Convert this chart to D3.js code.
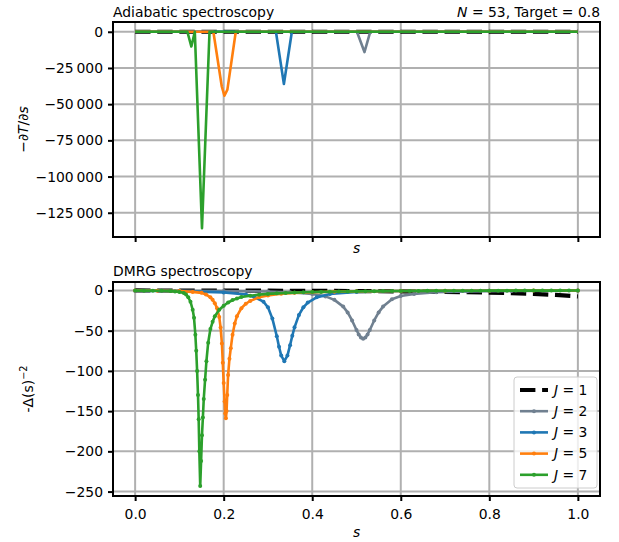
<!DOCTYPE html>
<html>
<head>
<meta charset="utf-8">
<script src="https://cdn.jsdelivr.net/npm/d3@7"></script>
<style>
  body { margin: 0; background: #fff; }
  svg text { font-family: "DejaVu Sans", sans-serif; font-size: 13.9px; fill: #000; }
</style>
</head>
<body>
<svg id="chart" width="619" height="542"></svg>
<script>
// ---- data ----
var xTicks = [0, 0.2, 0.4, 0.6, 0.8, 1.0];
var topYTicks = [0, -25000, -50000, -75000, -100000, -125000];
var botYTicks = [0, -50, -100, -150, -200, -250];
var jLabels = ["1", "2", "3", "5", "7"];
var jColors = ["#000000", "#708090", "#1f77b4", "#ff7f0e", "#2ca02c"];

// adiabatic spectroscopy, -dT/ds  [s, value]
var adJ1 = [[0, 0], [1, 0]];
var adJ2 = [[0, 0], [0.501, 0], [0.518, -14000], [0.531, 0], [1, 0]];
var adJ3 = [[0, 0], [0.318, 0], [0.336, -36100], [0.354, 0], [1, 0]];
var adJ5 = [[0, 0], [0.1767, 0], [0.1957, -37800], [0.2016, -44200], [0.2084, -40000], [0.2273, 0], [1, 0]];
var adJ7 = [[0, 0], [0.118, 0], [0.127, -10200], [0.1348, 0], [0.151, -135600], [0.168, 0], [1, 0]];

// DMRG spectroscopy, -Delta(s)^-2  [s, value]
var dmJ1 = [[0, 0], [0.1, -0.1], [0.2, -0.2], [0.3, -0.3], [0.4, -0.5], [0.5, -0.8], [0.6, -1.2], [0.7, -1.8],
  [0.75, -2.2], [0.8, -2.7], [0.85, -3.4], [0.9, -4.3], [0.95, -5.6], [1.0, -7.5]];
var dmJ2 = [[0, -0.23], [0.1, -0.36], [0.2, -0.61], [0.3, -1.3], [0.35, -2.2], [0.4, -4.3], [0.43, -7.4], [0.45, -11.7],
  [0.47, -20.1], [0.48, -27.3], [0.49, -37.3], [0.5, -49.2], [0.505, -54.7], [0.51, -58.6], [0.515, -60],
  [0.52, -58.6], [0.525, -54.7], [0.53, -49.2], [0.54, -37.3], [0.55, -27.3], [0.56, -20.1], [0.58, -11], [0.6, -7],
  [0.63, -4.3], [0.68, -2.2], [0.75, -1.1], [0.85, -0.54], [1.0, -0.26]];
var dmJ3 = [[0, -0.44], [0.1, -0.89], [0.2, -2.4], [0.25, -5], [0.27, -8.5], [0.29, -14], [0.3, -21], [0.31, -35],
  [0.32, -57], [0.325, -70], [0.33, -81], [0.337, -88], [0.344, -81], [0.35, -68], [0.355, -56.3], [0.36, -45.9],
  [0.37, -30.4], [0.38, -20.9], [0.39, -15], [0.41, -8.6], [0.44, -4.5], [0.5, -1.9], [0.6, -0.73], [0.8, -0.24], [1.0, -0.11]];
var dmJ5 = [[0, 0], [0.05, -0.3], [0.1, -0.8], [0.13, -1.8], [0.15, -3], [0.16, -5], [0.17, -8.5], [0.175, -11.5],
  [0.18, -16], [0.185, -22], [0.19, -33], [0.193, -46], [0.196, -66], [0.198, -90], [0.2, -115], [0.202, -138],
  [0.2035, -153], [0.205, -159], [0.2065, -150], [0.208, -130], [0.21, -105], [0.213, -85], [0.216, -72], [0.22, -55],
  [0.225, -41], [0.23, -32], [0.24, -22], [0.25, -16.5], [0.26, -13], [0.28, -8.5], [0.3, -6.2], [0.33, -4.2],
  [0.36, -3], [0.4, -2.2], [0.45, -1.5], [0.5, -1.1], [0.6, -0.6], [0.7, -0.4], [0.8, -0.3], [0.9, -0.2], [1.0, -0.1]];
var dmJ7 = [[0, -0.2], [0.02, -0.25], [0.04, -0.3], [0.06, -0.45], [0.08, -0.8], [0.09, -1.2], [0.1, -1.8], [0.11, -3.2],
  [0.115, -5], [0.12, -8.5], [0.125, -14], [0.13, -24], [0.133, -34], [0.136, -55], [0.138, -75], [0.14, -100],
  [0.142, -130], [0.1435, -160], [0.145, -200], [0.147, -243], [0.149, -212], [0.151, -180], [0.153, -158],
  [0.155, -135], [0.158, -111], [0.161, -88], [0.165, -65], [0.17, -48], [0.175, -39], [0.18, -32], [0.19, -24],
  [0.2, -19], [0.21, -15], [0.22, -12], [0.23, -10], [0.24, -8.2], [0.26, -6.5], [0.28, -5.2], [0.3, -4.3],
  [0.32, -3.6], [0.34, -3.1], [0.36, -2.7], [0.38, -2.3], [0.4, -2.0], [0.42, -1.8], [0.44, -1.6], [0.46, -1.4],
  [0.48, -1.3], [0.5, -1.1], [0.52, -1.0], [0.54, -0.9], [0.56, -0.8], [0.58, -0.75], [0.6, -0.7], [0.62, -0.6],
  [0.64, -0.55], [0.66, -0.5], [0.68, -0.45], [0.7, -0.4], [0.72, -0.38], [0.74, -0.35], [0.76, -0.32], [0.78, -0.3],
  [0.8, -0.28], [0.82, -0.26], [0.84, -0.24], [0.86, -0.22], [0.88, -0.2], [0.9, -0.19], [0.92, -0.18], [0.94, -0.17],
  [0.96, -0.16], [0.98, -0.15], [1.0, -0.14]];

var adSeries = [adJ1, adJ2, adJ3, adJ5, adJ7];
var dmSeries = [dmJ1, dmJ2, dmJ3, dmJ5, dmJ7];

// ---- layout ----
var left = 113, right = 600;
var topPanel = { top: 22, bottom: 237 };
var botPanel = { top: 282, bottom: 496 };

var svg = d3.select("#chart");

var x = d3.scaleLinear().domain([-0.05, 1.05]).range([left, right]);
var yTop = d3.scaleLinear().domain([-141750, 6750]).range([topPanel.bottom, topPanel.top]);
var yBot = d3.scaleLinear().domain([-255.5, 10.5]).range([botPanel.bottom, botPanel.top]);

function fmtThousands(v) {
  var s = d3.format(",")(Math.abs(v)).replace(/,/g, "\u2009");
  return (v < 0 ? "\u2212" : "") + s;
}
function fmtPlain(v) {
  return (v < 0 ? "\u2212" : "") + Math.abs(v);
}

function drawPanel(p, y, yTicks, yFmt, showXLabels, id) {
  var g = svg.append("g");

  svg.append("clipPath").attr("id", id)
    .append("rect")
    .attr("x", left).attr("y", p.top)
    .attr("width", right - left).attr("height", p.bottom - p.top);

  // grid
  g.selectAll(".vgrid").data(xTicks).enter().append("line")
    .attr("x1", function(d) { return x(d); }).attr("x2", function(d) { return x(d); })
    .attr("y1", p.top).attr("y2", p.bottom)
    .style("stroke", "#b0b0b0").style("stroke-width", 2);
  g.selectAll(".hgrid").data(yTicks).enter().append("line")
    .attr("x1", left).attr("x2", right)
    .attr("y1", function(d) { return y(d); }).attr("y2", function(d) { return y(d); })
    .style("stroke", "#b0b0b0").style("stroke-width", 2);

  // axes
  var xAxis = d3.axisBottom(x).tickValues(xTicks).tickSize(5).tickPadding(5)
    .tickFormat(showXLabels ? d3.format(".1f") : "");
  var yAxis = d3.axisLeft(y).tickValues(yTicks).tickSize(5).tickPadding(5).tickFormat(yFmt);

  var gx = svg.append("g").attr("class", "xaxis").attr("transform", "translate(0," + p.bottom + ")").call(xAxis);
  var gy = svg.append("g").attr("class", "yaxis").attr("transform", "translate(" + left + ",0)").call(yAxis);
  [gx, gy].forEach(function(a) {
    a.select(".domain").remove();
    a.selectAll(".tick line").style("stroke", "#000").style("stroke-width", 2);
    a.selectAll(".tick text").style("font-family", "DejaVu Sans").style("font-size", "13.9px").style("fill", "#000");
  });
  gx.selectAll(".tick text").attr("dy", "0.95em");

  return g;
}

function drawFrame(p) {
  svg.append("rect")
    .attr("x", left).attr("y", p.top)
    .attr("width", right - left).attr("height", p.bottom - p.top)
    .style("fill", "none").style("stroke", "#000").style("stroke-width", 2);
}

// top panel
drawPanel(topPanel, yTop, topYTicks, fmtThousands, false, "clipTop");
var topLines = svg.append("g").attr("clip-path", "url(#clipTop)");
var lineTop = d3.line().x(function(d) { return x(d[0]); }).y(function(d) { return yTop(d[1]); });
adSeries.forEach(function(ser, i) {
  topLines.append("path")
    .attr("d", lineTop(ser))
    .style("fill", "none")
    .style("stroke", jColors[i])
    .style("stroke-width", i === 0 ? 4.2 : 2.6)
    .style("stroke-dasharray", i === 0 ? "15.4,6.7" : null)
    .style("stroke-linejoin", "round");
});
drawFrame(topPanel);

// bottom panel
drawPanel(botPanel, yBot, botYTicks, fmtPlain, true, "clipBot");
var botLines = svg.append("g").attr("clip-path", "url(#clipBot)");
var lineBot = d3.line().x(function(d) { return x(d[0]); }).y(function(d) { return yBot(d[1]); });
dmSeries.forEach(function(ser, i) {
  botLines.append("path")
    .attr("d", lineBot(ser))
    .style("fill", "none")
    .style("stroke", jColors[i])
    .style("stroke-width", i === 0 ? 4.2 : 2.6)
    .style("stroke-dasharray", i === 0 ? "15.4,6.7" : null)
    .style("stroke-linejoin", "round");
  if (i > 0) {
    botLines.selectAll(".pt" + i).data(ser).enter().append("circle")
      .attr("cx", function(d) { return x(d[0]); })
      .attr("cy", function(d) { return yBot(d[1]); })
      .attr("r", 2)
      .style("fill", jColors[i]);
  }
});
drawFrame(botPanel);

// titles
svg.append("text").attr("x", left).attr("y", 17).text("Adiabatic spectroscopy");
var tr = svg.append("text").attr("x", right).attr("y", 17).attr("text-anchor", "end");
tr.append("tspan").style("font-style", "italic").text("N");
tr.append("tspan").text(" = 53, Target = 0.8");
svg.append("text").attr("x", left).attr("y", 276).text("DMRG spectroscopy");

// x labels
svg.append("text").attr("x", (left + right) / 2).attr("y", 253).attr("text-anchor", "middle")
  .style("font-style", "italic").text("s");
svg.append("text").attr("x", (left + right) / 2).attr("y", 537).attr("text-anchor", "middle")
  .style("font-style", "italic").text("s");

// y labels
var yl1 = svg.append("text")
  .attr("transform", "translate(28," + (topPanel.top + topPanel.bottom) / 2 + ") rotate(-90)")
  .attr("text-anchor", "middle");
yl1.append("tspan").text("\u2212\u2202");
yl1.append("tspan").style("font-style", "italic").text("T");
yl1.append("tspan").text("/\u2202");
yl1.append("tspan").style("font-style", "italic").text("s");

var yl2 = svg.append("text")
  .attr("transform", "translate(33," + (botPanel.top + botPanel.bottom) / 2 + ") rotate(-90)")
  .attr("text-anchor", "middle");
yl2.append("tspan").text("-\u0394(s)");
yl2.append("tspan").attr("dy", -6).style("font-size", "9.7px").text("\u22122");

// legend
var leg = svg.append("g");
leg.append("rect")
  .attr("x", 514).attr("y", 377).attr("width", 83).attr("height", 111).attr("rx", 3)
  .style("fill", "#fff").style("fill-opacity", 0.8).style("stroke", "#cccccc").style("stroke-width", 1);
jLabels.forEach(function(lab, i) {
  var yy = 390 + i * 21.2;
  leg.append("line")
    .attr("x1", 520).attr("x2", 548).attr("y1", yy).attr("y2", yy)
    .style("stroke", jColors[i])
    .style("stroke-width", i === 0 ? 4.2 : 2.6)
    .style("stroke-dasharray", i === 0 ? "15.4,6.7" : null);
  if (i > 0) {
    leg.append("circle").attr("cx", 534).attr("cy", yy).attr("r", 2).style("fill", jColors[i]);
  }
  var t = leg.append("text").attr("x", 554).attr("y", yy).attr("dy", "0.35em");
  t.append("tspan").style("font-style", "italic").text("J");
  t.append("tspan").text(" = " + lab);
});
</script>
</body>
</html>
